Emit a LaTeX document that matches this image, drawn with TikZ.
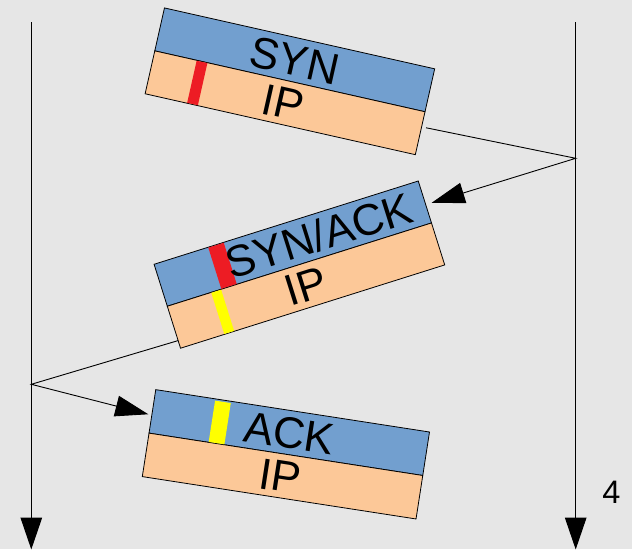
\documentclass[tikz,border=0pt]{standalone}
\usepackage{fontspec}
\setmainfont{Liberation Sans}
\usetikzlibrary{arrows.meta}
\definecolor{bg}{RGB}{230,230,230}
\definecolor{hdrblue}{RGB}{114,159,207}
\definecolor{ipor}{RGB}{252,200,152}
\definecolor{mkred}{RGB}{237,28,36}
\definecolor{mkyel}{RGB}{255,255,0}
\tikzset{
  half/.style={draw=black, line width=0.8pt, minimum width=277pt, minimum height=44pt, inner sep=0pt, outer sep=0pt},
  hdr/.style={half, fill=hdrblue},
  ipb/.style={half, fill=ipor},
  lbl/.style={font=\fontsize{44pt}{44pt}\selectfont, inner sep=0pt, text height=31.5pt, text depth=0pt},
  timeline/.style={line width=1pt, -{Triangle[length=32pt,width=21.6pt]}},
  msg/.style={line width=0.9pt, -{Triangle[length=33pt,width=21pt]}},
}
\begin{document}
\begin{tikzpicture}[x=1pt,y=-1pt]
\fill[bg] (0,0) rectangle (632,549);
\useasboundingbox (0,0) rectangle (632,549);

% time lines
\coordinate (L0) at (31.3,22);
\coordinate (L1) at (31.3,549.5);
\coordinate (R0) at (575.7,22);
\coordinate (R1) at (575.7,549.5);
\coordinate (rhit) at (575.7,158.3);
\coordinate (lhit) at (31.3,384.3);
\draw[timeline] (L0) -- (L1);
\draw[timeline] (R0) -- (R1);
\node[font=\fontsize{32.5pt}{32.5pt}\selectfont, inner sep=0pt, text height=23.2pt, text depth=0pt] (num) at (611.3,492) {4};

% packet 1: SYN
\begin{scope}[shift={(289.9,81.3)}, rotate=-12.7, transform shape]
  \node[hdr] (synh) at (0,-22) {};
  \node[ipb] (synip) at (0,22) {};
  \fill[mkred] (-95.5,0.4) rectangle (-84.5,43.6);
  \node[lbl] (syntxt) at (0,-22) {SYN};
  \node[lbl] (syniptxt) at (-2,22) {IP};
  \coordinate (p1out) at (143,15.4);
\end{scope}

% packet 2: SYN/ACK
\begin{scope}[shift={(299.4,264.6)}, rotate=17.5, transform shape]
  \node[hdr] (sah) at (0,-22) {};
  \node[ipb] (saip) at (0,22) {};
  \fill[mkred] (-81.8,-43.6) rectangle (-65.6,-0.4);
  \fill[mkyel] (-92.5,0.4) rectangle (-82.2,43.6);
  \node[lbl] (satxt) at (27,-22) {SYN/ACK};
  \node[lbl] (saiptxt) at (0,22) {IP};
  \coordinate (p2in) at (144.8,-19.2);
  \coordinate (p2out) at (-138.5,36);
\end{scope}

% packet 3: ACK
\begin{scope}[shift={(285.9,454.3)}, rotate=-8.8, transform shape]
  \node[hdr] (ackh) at (0,-22) {};
  \node[ipb] (ackip) at (0,22) {};
  \fill[mkyel] (-78.2,-42.2) rectangle (-62.3,-0.4);
  \node[lbl] (acktxt) at (0,-22) {ACK};
  \node[lbl] (ackiptxt) at (-2,22) {IP};
  \coordinate (p3in) at (-142.1,-18.5);
\end{scope}

% messages
\draw[msg] (p1out) -- (rhit) -- (p2in);
\draw[msg] (p2out) -- (lhit) -- (p3in);
\end{tikzpicture}
\end{document}
